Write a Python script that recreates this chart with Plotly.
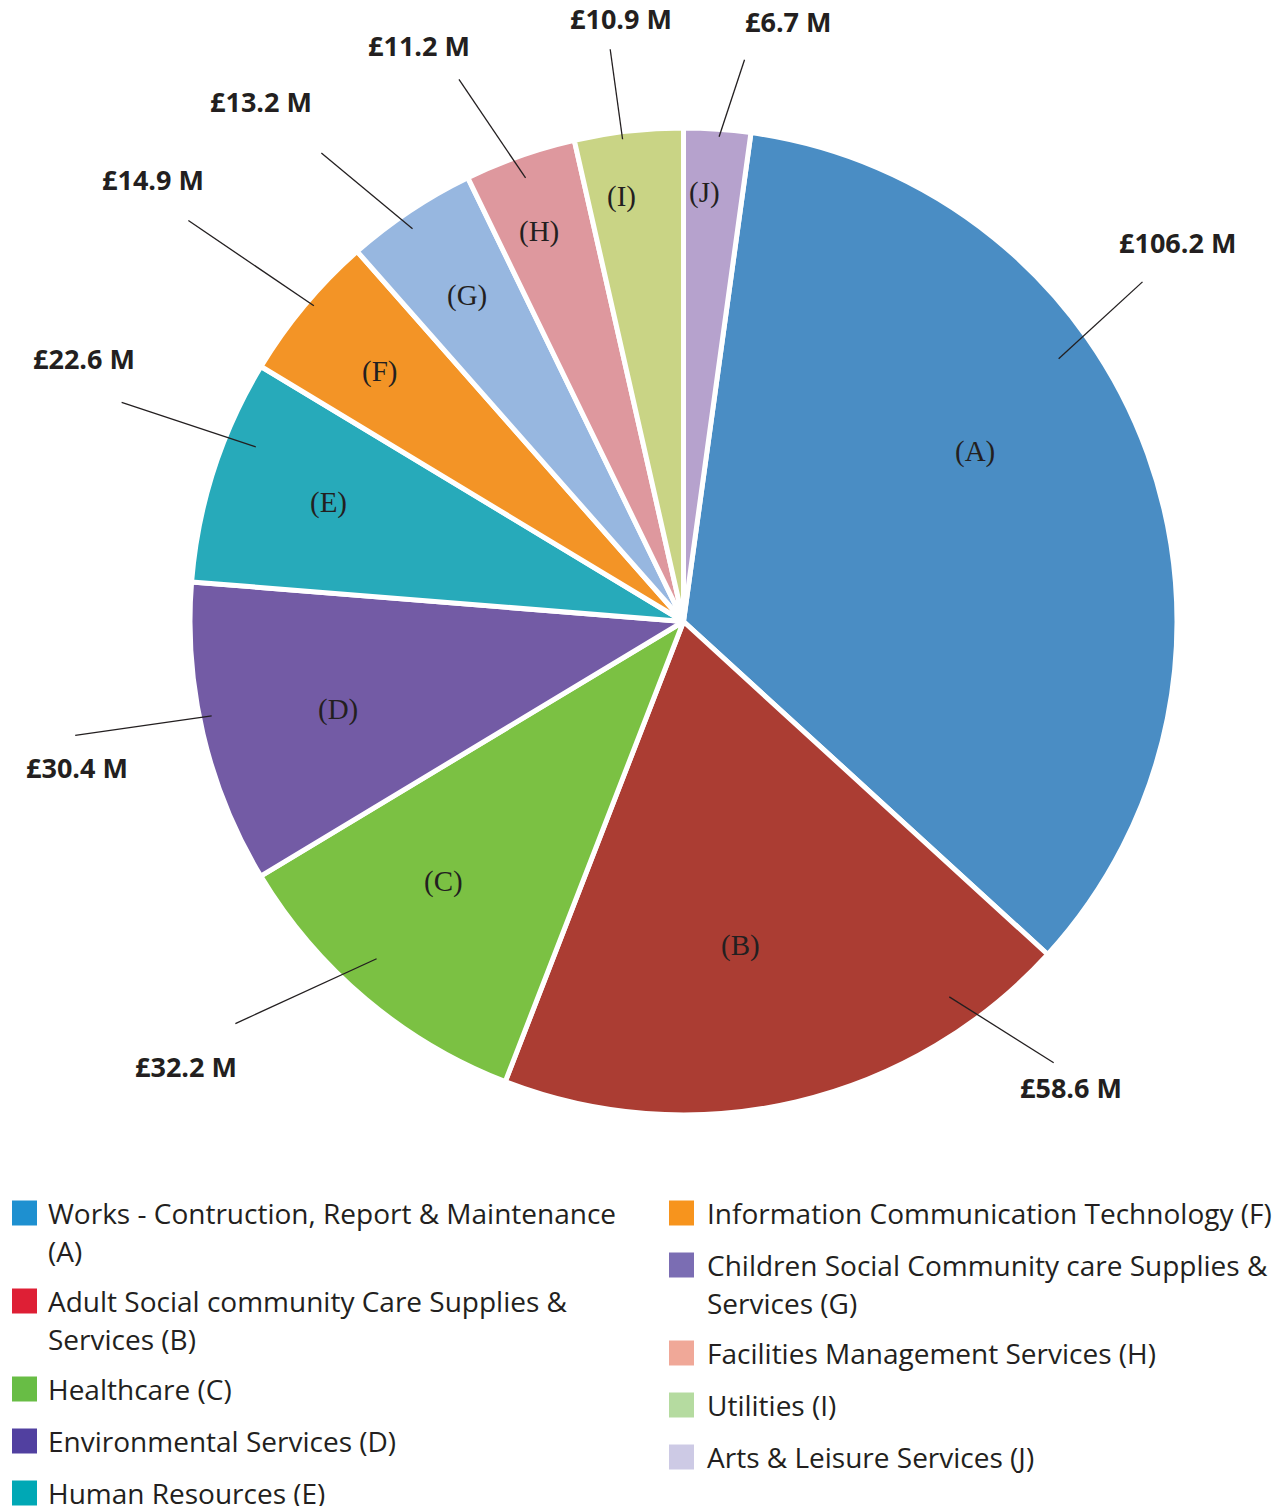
import math
import textwrap
import plotly.graph_objects as go

# ---------------- data ----------------
codes = ["A", "B", "C", "D", "E", "F", "G", "H", "I", "J"]
categories = [
    "Works - Contruction, Report & Maintenance",
    "Adult Social community Care Supplies & Services",
    "Healthcare",
    "Environmental Services",
    "Human Resources",
    "Information Communication Technology",
    "Children Social Community care Supplies & Services",
    "Facilities Management Services",
    "Utilities",
    "Arts & Leisure Services",
]
values = [106.2, 58.6, 32.2, 30.4, 22.6, 14.9, 13.2, 11.2, 10.9, 6.7]
value_labels = [f"£{v} M" for v in values]

# ---------------- styles ----------------
slice_colors = ["#4A8DC4", "#AB3D33", "#7BC143", "#735BA5", "#27AABA",
                "#F39426", "#97B7E0", "#DE989E", "#C9D485", "#B6A2CD"]
legend_colors = ["#1E90D0", "#DE1F35", "#68BD45", "#5140A0", "#00A8B5",
                 "#F7941D", "#7B6DB3", "#F0A898", "#B5DBA0", "#CDCAE5"]
TEXT = "#231F20"

W, H = 1288, 1506
CX, CY, R = 683.5, 621.5, 493.5

# label layout (polar, degrees clockwise from 12 o'clock, radius as fraction of R)
inner_pos = [(59.7, 0.683), (170.0, 0.667), (222.8, 0.717), (255.7, 0.723), (288.5, 0.758),
             (309.4, 0.798), (326.4, 0.794), (339.7, 0.843), (351.7, 0.871), (2.8, 0.871)]
leader_start = [(55.0, 0.928), (144.7, 0.932), (222.3, 0.924), (258.7, 0.975), (292.2, 0.936),
                (310.5, 0.985), (325.4, 0.967), (340.4, 0.954), (352.8, 0.985), (4.2, 0.985)]
leader_end = [(53.5, 1.157), (140.0, 1.167), (228.1, 1.220), (259.4, 1.254), (291.3, 1.222),
              (309.0, 1.291), (322.3, 1.200), (337.5, 1.189), (352.7, 1.169), (6.2, 1.145)]
outer_pos = [(52.5, 1.262), (140.2, 1.228), (228.2, 1.352), (256.5, 1.264), (293.7, 1.327),
             (309.8, 1.398), (320.9, 1.358), (335.3, 1.285), (354.1, 1.228), (9.9, 1.234)]


def polar(angle_deg, rfrac):
    a = math.radians(angle_deg)
    px = CX + rfrac * R * math.sin(a)
    py = CY - rfrac * R * math.cos(a)
    return px / W, 1 - py / H


total = sum(values)
rotation = values[-1] / total * 360.0  # last slice (J) ends at 12 o'clock

fig = go.Figure()
fig.add_trace(go.Pie(
    labels=[f"{c} ({k})" for c, k in zip(categories, codes)],
    values=values,
    sort=False,
    direction="clockwise",
    rotation=rotation,
    marker=dict(colors=slice_colors, line=dict(color="white", width=5)),
    textinfo="none",
    hoverinfo="label+value",
    showlegend=False,
    domain=dict(x=[(CX - R) / W, (CX + R) / W], y=[1 - (CY + R) / H, 1 - (CY - R) / H]),
))

annotations = []
shapes = []

for i, k in enumerate(codes):
    x, y = polar(*inner_pos[i])
    annotations.append(dict(x=x, y=y, xref="paper", yref="paper", text=f"({k})",
                            showarrow=False, xanchor="center", yanchor="middle",
                            font=dict(family="Liberation Serif", size=29, color=TEXT)))
    x0, y0 = polar(*leader_start[i])
    x1, y1 = polar(*leader_end[i])
    shapes.append(dict(type="line", xref="paper", yref="paper", x0=x0, y0=y0, x1=x1, y1=y1,
                       line=dict(color=TEXT, width=1.3)))
    xo, yo = polar(*outer_pos[i])
    annotations.append(dict(x=xo, y=yo, xref="paper", yref="paper", text=value_labels[i],
                            showarrow=False, xanchor="center", yanchor="middle",
                            font=dict(family="Open Sans", size=27, color=TEXT, weight="bold")))

# ---------------- custom legend ----------------
columns = [(0, 5, 12, 46), (5, 10, 669, 705)]
for start, stop, sq_x, tx in columns:
    y = 1213
    for i in range(start, stop):
        lines = textwrap.wrap(f"{categories[i]} ({codes[i]})", width=41)
        shapes.append(dict(type="rect", xref="paper", yref="paper",
                           x0=sq_x / W, x1=(sq_x + 25) / W,
                           y0=1 - (y + 12.5) / H, y1=1 - (y - 12.5) / H,
                           fillcolor=legend_colors[i], line=dict(width=0)))
        for j, ln in enumerate(lines):
            annotations.append(dict(x=tx / W, y=1 - (y + 38 * j) / H, xref="paper", yref="paper",
                                    text=ln, showarrow=False, xanchor="left", yanchor="middle",
                                    font=dict(family="Open Sans", size=28, color=TEXT)))
        y += 52 + 36 * (len(lines) - 1)

fig.update_layout(
    width=W, height=H,
    margin=dict(l=0, r=0, t=0, b=0),
    paper_bgcolor="white", plot_bgcolor="white",
    annotations=annotations, shapes=shapes,
)

fig.write_html("out.html")
